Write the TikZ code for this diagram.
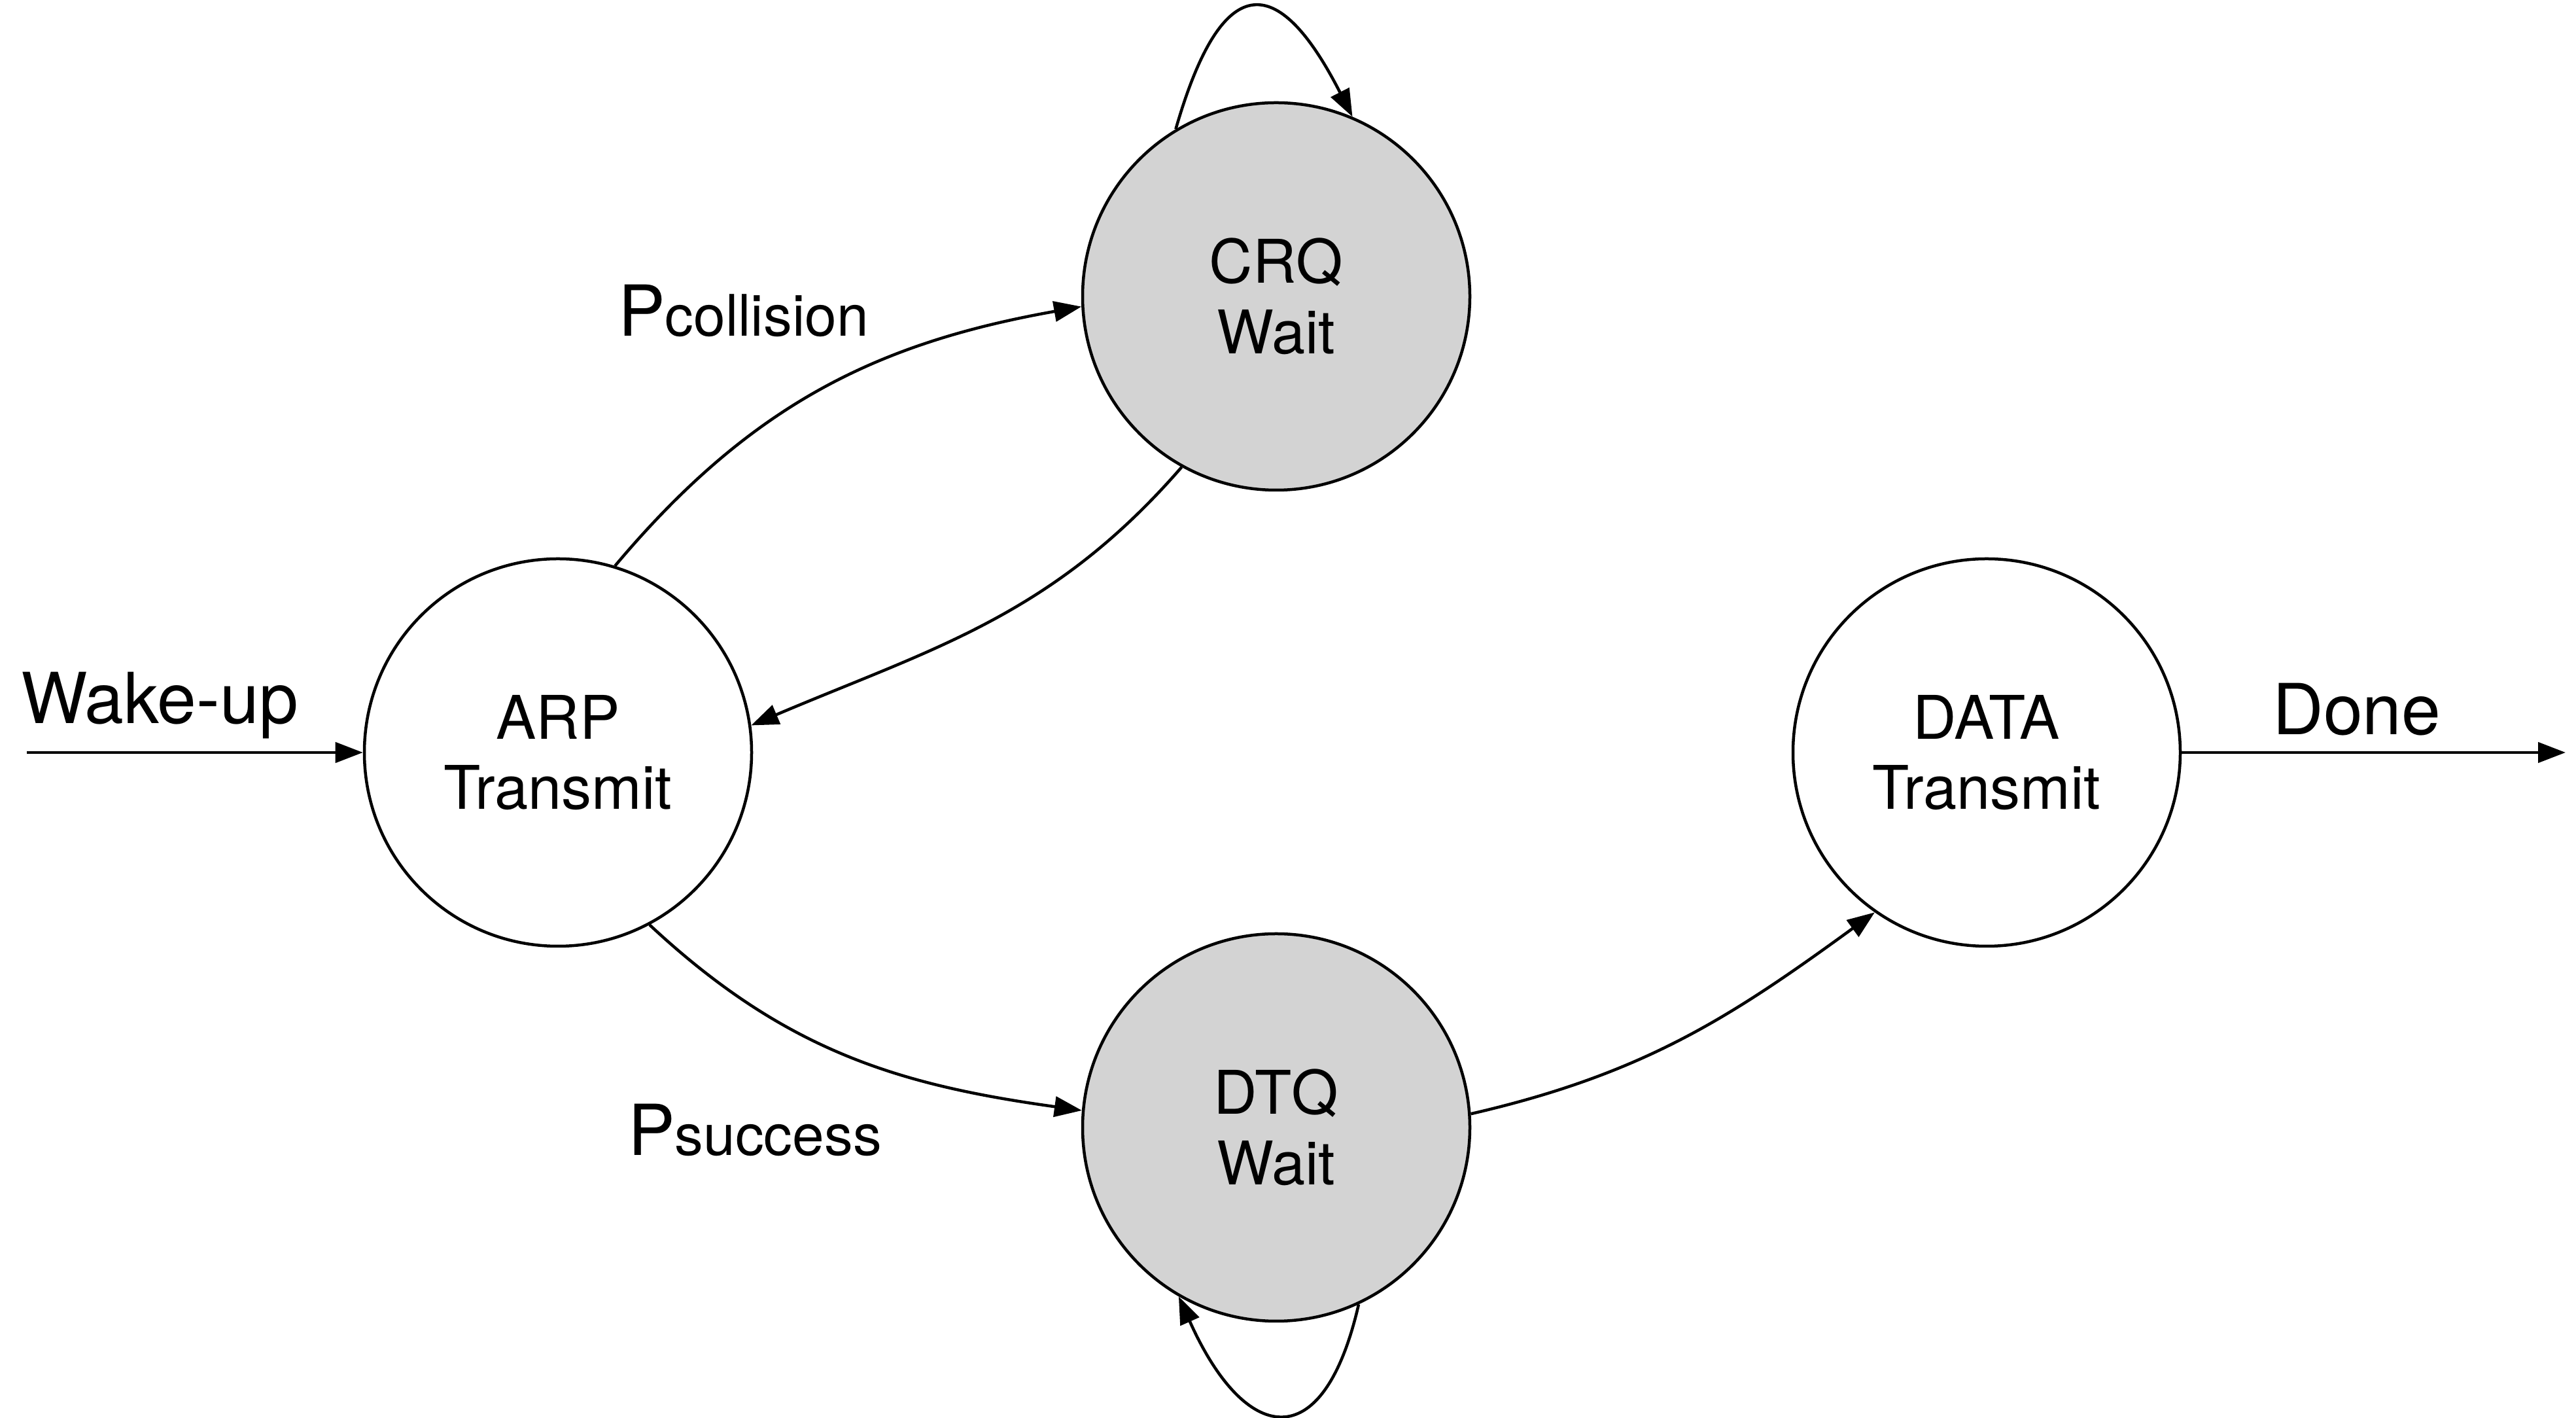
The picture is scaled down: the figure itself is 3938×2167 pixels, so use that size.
\documentclass[tikz,border=0pt]{standalone}
\usepackage{fontspec}
\setmainfont{TeX Gyre Heros}
\usetikzlibrary{arrows.meta}
\definecolor{waitgray}{RGB}{211,211,211}
\begin{document}
\begin{tikzpicture}[x=0.2pt,y=-0.2pt,
  state/.style={circle,draw,line width=0.9pt,minimum size=118.4pt,inner sep=0pt,align=center,font=\fontsize{18.4}{21.5}\selectfont},
  waitstate/.style={state,fill=waitgray},
  conn/.style={line width=0.9pt,-{Triangle[length=8.4pt,width=6.2pt]}},
  lbl/.style={inner sep=0pt,font=\fontsize{21.5}{24}\selectfont},
  sublbl/.style={font=\fontsize{17.5}{20}\selectfont}]
\useasboundingbox (0,0) rectangle (3938,2167);
\node[state] (arp) at (853,1150) {ARP\\Transmit};
\node[waitstate] (crq) at (1951,453) {CRQ\\Wait};
\node[waitstate] (dtq) at (1951,1723) {DTQ\\Wait};
\node[state] (data) at (3037,1150) {DATA\\Transmit};
\coordinate (wk) at (41,1150);
\coordinate (dn) at (3922,1150);
\draw[conn] (wk) -- (arp);
\draw[conn] (data) -- (dn);
\draw[conn] (arp.73) .. controls +(206,-245) and +(-315,56) .. (crq.183);
\draw[conn] (crq.241) .. controls +(-198,228) and +(278,-118) .. (arp.8);
\draw[conn] (arp.298) .. controls +(207,193) and +(-280,-39) .. (dtq.175);
\draw[conn] (dtq.4) .. controls +(265,-61) and +(-220,160) .. (data.235);
\draw[conn] (crq.121) .. controls +(70,-243) and +(-115,-225) .. (crq.67);
\draw[conn] (dtq.295.5) .. controls +(-55,239) and +(100,224) .. (dtq.240);
\node[lbl,anchor=base] (lwk) at (244,1106) {Wake-up};
\node[lbl,anchor=base] (ldn) at (3603,1123) {Done};
\node[lbl,anchor=base west] (lcol) at (944,514) {P{\fontsize{17.5}{20}\selectfont collision}};
\node[lbl,anchor=base west] (lsuc) at (959,1766) {P{\fontsize{17.5}{20}\selectfont success}};
\end{tikzpicture}
\end{document}
